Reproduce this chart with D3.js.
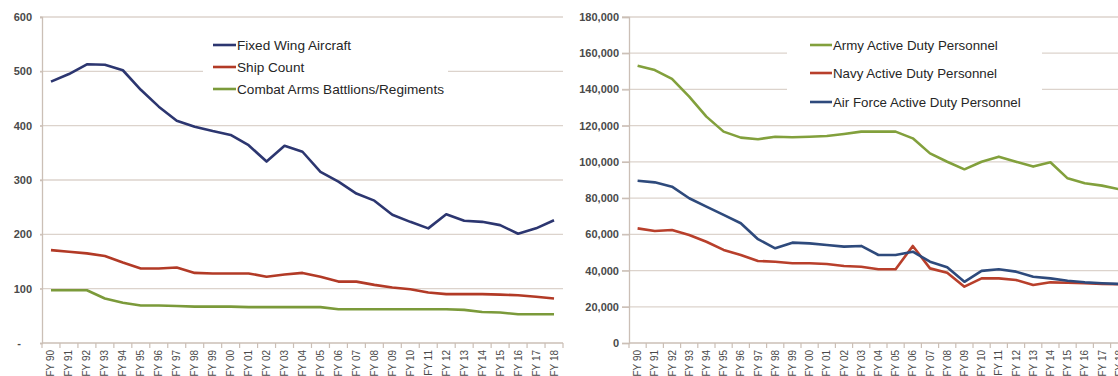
<!DOCTYPE html>
<html>
<head>
<meta charset="utf-8">
<script src="https://cdn.jsdelivr.net/npm/d3@7/dist/d3.min.js"></script>
<style>
  html, body { margin: 0; padding: 0; background: #ffffff; }
  svg { display: block; }
  text { font-family: "Liberation Sans", Arial, sans-serif; }
</style>
</head>
<body>
<svg id="chart" width="1118" height="376"></svg>
<script>
// Fiscal years shared by both panels
const years = ["FY 90","FY 91","FY 92","FY 93","FY 94","FY 95","FY 96","FY 97","FY 98","FY 99",
  "FY 00","FY 01","FY 02","FY 03","FY 04","FY 05","FY 06","FY 07","FY 08","FY 09",
  "FY 10","FY 11","FY 12","FY 13","FY 14","FY 15","FY 16","FY 17","FY 18"];

// Force structure counts
const fixedWing = [481,495,513,512,502,466,435,409,398,390,383,364,334,363,352,315,297,275,262,236,223,211,237,225,223,217,201,211,226];
const shipCount = [171,168,165,160,148,137,137,139,129,128,128,128,122,126,129,122,113,113,107,102,99,93,90,90,90,89,88,85,82];
const combatArms = [97,97,97,82,74,69,69,68,67,67,67,66,66,66,66,66,62,62,62,62,62,62,62,61,57,56,53,53,53];

// Active duty end strength
const armyPersonnel = [153100,150700,145800,136000,125000,116700,113400,112500,113900,113600,113900,114300,115400,116700,116700,116700,113000,104700,100100,95900,100100,102900,100100,97400,99800,90900,88200,86900,84900];
const navyPersonnel = [63300,61800,62400,59600,55900,51400,48600,45300,44900,44000,44000,43600,42500,42100,40700,40700,53600,41200,38800,31100,35700,35700,34800,32000,33500,33300,33000,32600,32400];
const airForcePersonnel = [89600,88700,86300,79900,75300,70700,66100,57300,52300,55400,55000,54100,53200,53600,48600,48600,50400,44900,41800,33800,39800,40700,39400,36600,35700,34400,33500,33000,32600];

const leftTicks = [0,100,200,300,400,500,600];
const rightTicks = [0,20000,40000,60000,80000,100000,120000,140000,160000,180000];

const svg = d3.select("#chart");
const gridColor = "#dcd3cc";
const axisColor = "#cbbfb6";
const labelColor = "#4a4a4a";

function panel(cfg) {
  const g = svg.append("g");
  const x = d3.scaleBand().domain(years).range([cfg.x0, cfg.x1]).paddingInner(0).paddingOuter(0);
  const y = d3.scaleLinear().domain(cfg.domain).range([343, 17]);
  const cx = d => x(d) + x.bandwidth() / 2;

  // horizontal gridlines
  g.selectAll("line.grid").data(cfg.ticks.filter(t => t > 0)).join("line")
    .attr("x1", cfg.x0 - cfg.tickLen).attr("x2", cfg.x1)
    .attr("y1", d => y(d)).attr("y2", d => y(d))
    .attr("stroke", gridColor).attr("stroke-width", 1.3);

  // y axis labels
  const yAxis = d3.axisLeft(y).tickValues(cfg.ticks).tickSize(cfg.tickLen).tickPadding(cfg.pad).tickFormat(cfg.fmt);
  const ya = g.append("g").attr("transform", `translate(${cfg.x0},0)`).call(yAxis);
  ya.select(".domain").attr("stroke", axisColor).attr("stroke-width", 1.3);
  ya.selectAll(".tick line").attr("stroke", axisColor).attr("stroke-width", 1.3);
  ya.selectAll(".tick text").attr("fill", labelColor).attr("font-size", 11).attr("font-weight", "bold")
    .style("font-family", "'Liberation Sans', Arial, sans-serif");

  // x axis line with ticks between categories
  g.append("line").attr("x1", cfg.x0).attr("x2", cfg.x1).attr("y1", 343).attr("y2", 343)
    .attr("stroke", axisColor).attr("stroke-width", 1.3);
  g.selectAll("line.xtick").data(years.concat(["__end"])).join("line")
    .attr("x1", d => d === "__end" ? cfg.x1 : x(d))
    .attr("x2", d => d === "__end" ? cfg.x1 : x(d))
    .attr("y1", 343).attr("y2", 348)
    .attr("stroke", axisColor).attr("stroke-width", 1.2);
  g.selectAll("text.xlab").data(years).join("text")
    .attr("transform", d => `translate(${cx(d) + 3.5},350) rotate(-90)`)
    .attr("text-anchor", "end")
    .attr("font-size", 10)
    .attr("fill", labelColor)
    .text(d => d);

  // legend box (white, covers gridlines)
  const lg = cfg.legend;
  g.append("rect").attr("x", lg.x).attr("y", lg.y).attr("width", lg.w).attr("height", lg.h).attr("fill", "#ffffff");

  // series lines
  const line = d3.line().x((d, i) => cx(years[i])).y(d => y(d));
  cfg.series.forEach(s => {
    g.append("path").datum(s.values)
      .attr("d", line).attr("fill", "none")
      .attr("stroke", s.color).attr("stroke-width", 2.6)
      .attr("stroke-linejoin", "round");
  });

  // legend entries
  cfg.series.forEach((s, i) => {
    const yy = lg.rows[i];
    g.append("line").attr("x1", lg.lx).attr("x2", lg.lx + lg.lw).attr("y1", yy).attr("y2", yy)
      .attr("stroke", s.color).attr("stroke-width", 2.6);
    g.append("text").attr("x", lg.lx + lg.lw + 1).attr("y", yy).attr("dy", "0.35em")
      .attr("font-size", lg.fs).attr("fill", "#262626")
      .style("font-family", lg.font)
      .text(s.name);
  });
}

panel({
  x0: 42, x1: 563, domain: [0, 600], ticks: leftTicks, tickLen: 2, pad: 8,
  fmt: d => d === 0 ? "-\u2002\u2002" : d,
  series: [
    { name: "Fixed Wing Aircraft", values: fixedWing, color: "#2c3670" },
    { name: "Ship Count", values: shipCount, color: "#b23a26" },
    { name: "Combat Arms Battlions/Regiments", values: combatArms, color: "#7b9a3a" }
  ],
  legend: { x: 203, y: 30, w: 245, h: 75, lx: 213, lw: 23, rows: [45, 67, 89], fs: 13.6,
            font: "'Liberation Sans', Arial, sans-serif" }
});

panel({
  x0: 629, x1: 629 + 29 * 17.2, domain: [0, 180000], ticks: rightTicks, tickLen: 7, pad: 3,
  fmt: d3.format(","),
  series: [
    { name: "Army Active Duty Personnel", values: armyPersonnel, color: "#82a03c" },
    { name: "Navy Active Duty Personnel", values: navyPersonnel, color: "#b83f2b" },
    { name: "Air Force Active Duty Personnel", values: airForcePersonnel, color: "#2e4a7c" }
  ],
  legend: { x: 787, y: 29, w: 255, h: 85, lx: 810, lw: 22, rows: [45, 73, 102], fs: 13.3,
            font: "'Liberation Sans', Arial, sans-serif" }
});
</script>
</body>
</html>
